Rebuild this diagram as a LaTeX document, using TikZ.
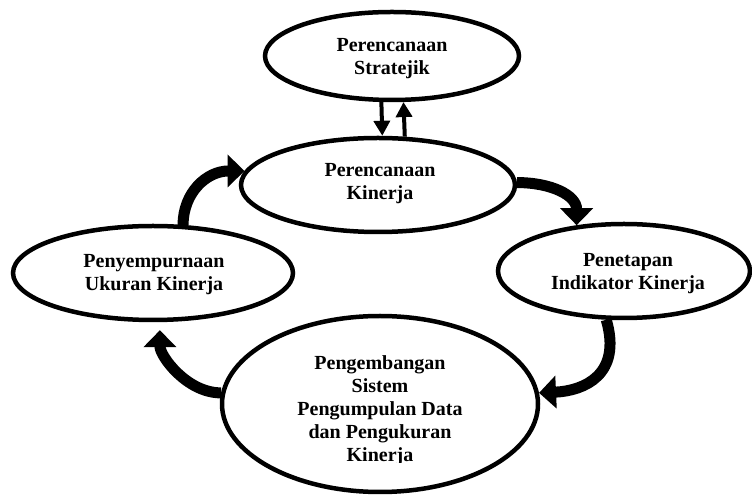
\documentclass[tikz,border=0pt]{standalone}
\usepackage{fontspec}
\setmainfont{Liberation Serif}
\usetikzlibrary{shapes.geometric,arrows.meta}
\tikzset{
  oval/.style={ellipse, draw=black, line width=4.5pt, inner sep=0pt, fill=white},
  txt/.style={align=center, inner sep=0pt, font=\fontsize{20}{23}\selectfont\bfseries},
  bigarrow/.style={line width=11pt, -{Triangle[width=32pt,length=17pt]}},
  smallarrow/.style={line width=4pt, -{Triangle[width=16pt,length=15pt]}}
}
\begin{document}
\begin{tikzpicture}[x=1pt,y=1pt]
\useasboundingbox (0,0) rectangle (752,495);
% ellipses
\node[oval, minimum width=254pt, minimum height=88pt] (strat) at (392,439) {};
\node[oval, minimum width=274pt, minimum height=94pt] (mid) at (378,310) {};
\node[oval, minimum width=280pt, minimum height=94pt] (lft) at (153,222) {};
\node[oval, minimum width=252pt, minimum height=94pt] (rgt) at (624,224) {};
\node[oval, minimum width=316pt, minimum height=176pt] (bot) at (380,91) {};
% texts
\node[txt] (tstrat) at (392,436) {Perencanaan\\Stratejik};
\node[txt] (tmid) at (380,311) {Perencanaan\\Kinerja};
\node[txt] (tlft) at (154,220) {Penyempurnaan\\Ukuran Kinerja};
\node[txt] (trgt) at (628,221) {Penetapan\\Indikator Kinerja};
\begin{scope}
  \clip (220,32) rectangle (540,195);
  \node[txt] (tbot) at (380,84) {Pengembangan\\Sistem\\Pengumpulan Data\\dan Pengukuran\\Kinerja};
\end{scope}
% straight arrows between top and middle
\draw[smallarrow] (strat.257) -- (mid.85);
\draw[smallarrow] (mid.61.6) -- (strat.284);
% curved block arrows
\draw[bigarrow] (lft.58) .. controls +(0,32) and +(-38,0) .. (mid.174);
\draw[bigarrow] (mid.1) .. controls +(34,0) and +(0,30) .. (rgt.136);
\draw[bigarrow] (rgt.250) .. controls +(16,-55) and +(45,2) .. (bot.4);
\draw[bigarrow, shorten >=8pt] (bot.176) .. controls +(-34,0) and +(0,-34) .. (lft.278);
\end{tikzpicture}
\end{document}
